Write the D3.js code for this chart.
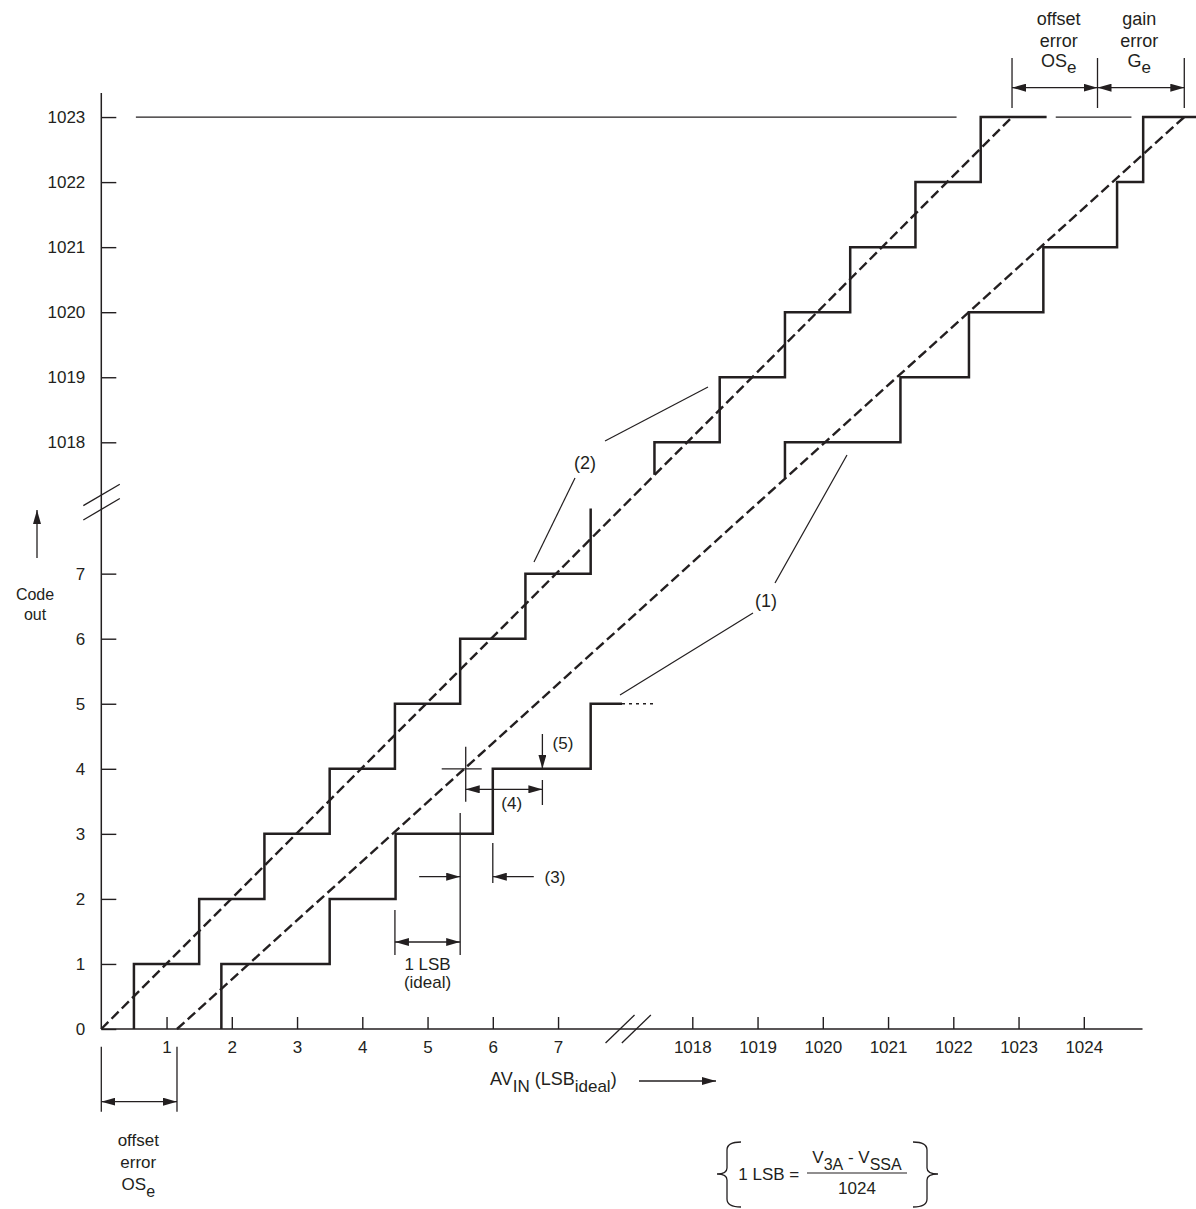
<!DOCTYPE html>
<html>
<head>
<meta charset="utf-8">
<script src="https://cdn.jsdelivr.net/npm/d3@7"></script>
<style>
body { margin: 0; background: #fff; }
svg text { font-family: "Liberation Sans", Arial, sans-serif; fill: #231f20; }
</style>
</head>
<body>
<svg class="chart"></svg>
<script>
var width = 1196,
    height = 1209;

// tick labels (LSB on x, output code on y); both axes are broken between 8 and 1017
var xTicksLow = [1, 2, 3, 4, 5, 6, 7];
var xTicksHigh = [1018, 1019, 1020, 1021, 1022, 1023, 1024];
var yTicksLow = [0, 1, 2, 3, 4, 5, 6, 7];
var yTicksHigh = [1018, 1019, 1020, 1021, 1022, 1023];

// (2) ideal transfer curve, [AVin (LSB), code]
var idealLow = [[0.5, 0], [0.5, 1], [1.5, 2], [2.5, 3], [3.5, 4], [4.5, 5], [5.5, 6], [6.5, 7], [7.5, 8]];
var idealHigh = [[1017.42, 1017.5], [1017.42, 1018], [1018.42, 1019], [1019.42, 1020], [1020.42, 1021],
                 [1021.42, 1022], [1022.42, 1023], [1023.43, 1023]];

// (1) example of an actual transfer curve
var actualLow = [[1.84, 0], [1.84, 1], [3.5, 2], [4.51, 3], [6.0, 4], [7.5, 5], [7.98, 5]];
var actualLowMore = [[7.98, 5], [8.48, 5]];
var actualHigh = [[1019.42, 1017.45], [1019.42, 1018], [1021.19, 1019], [1022.24, 1020], [1023.38, 1021],
                  [1024.51, 1022], [1024.91, 1023], [1025.75, 1023]];

// straight lines through the step centres
var idealLine = [[0, 0], [1022.9, 1023]];
var actualLine = [[1.16, 0], [1025.54, 1023]];

// thin full-scale line at code 1023
var fullScale = [[[0.53, 1023], [1022.05, 1023]], [[1023.57, 1023], [1024.73, 1023]]];

var ox = 101.3, oy = 1029, lsbX = 65.25, lsbY = 65.05;

var xLo = d3.scaleLinear().domain([0, 8]).range([ox, ox + 8 * lsbX]);
var xHi = d3.scaleLinear().domain([1018, 1024]).range([692.3, 692.3 + 6 * lsbX]);
var yLo = d3.scaleLinear().domain([0, 7]).range([oy, oy - 7 * lsbY]);
var yHi = d3.scaleLinear().domain([1018, 1023]).range([442.3, 442.3 - 5 * lsbY]);

function X(v) { return v > 500 ? xHi(v) : xLo(v); }
function Y(c) { return c > 500 ? yHi(c) : yLo(c); }

var ink = "#231f20";
var fmt = d3.format("d");

var chart = d3.select(".chart")
    .attr("width", width)
    .attr("height", height);

chart.append("defs").append("marker")
    .attr("id", "arr")
    .attr("viewBox", "0 0 14 8")
    .attr("refX", 14)
    .attr("refY", 4)
    .attr("markerWidth", 14)
    .attr("markerHeight", 8)
    .attr("markerUnits", "userSpaceOnUse")
    .attr("orient", "auto-start-reverse")
  .append("path")
    .attr("d", "M0,0L14,4L0,8Z")
    .attr("fill", ink);

var stepLine = d3.line()
    .x(function(d) { return X(d[0]); })
    .y(function(d) { return Y(d[1]); })
    .curve(d3.curveStepAfter);

var straight = d3.line()
    .x(function(d) { return X(d[0]); })
    .y(function(d) { return Y(d[1]); });

// axes
function styleAxis(g) {
  g.select(".domain").remove();
  g.attr("font-size", 17).attr("font-family", "Liberation Sans, Arial, sans-serif").attr("color", ink);
  g.selectAll(".tick line").attr("stroke-width", 1.4);
}

chart.append("g")
    .attr("transform", "translate(0," + oy + ")")
    .call(d3.axisBottom(xLo).tickValues(xTicksLow).tickFormat(fmt).tickSize(-12).tickPadding(12))
    .call(styleAxis);
chart.append("g")
    .attr("transform", "translate(0," + oy + ")")
    .call(d3.axisBottom(xHi).tickValues(xTicksHigh).tickFormat(fmt).tickSize(-12).tickPadding(12))
    .call(styleAxis);
chart.append("g")
    .attr("transform", "translate(" + ox + ",0)")
    .call(d3.axisLeft(yLo).tickValues(yTicksLow).tickFormat(fmt).tickSize(-15).tickPadding(16))
    .call(styleAxis);
chart.append("g")
    .attr("transform", "translate(" + ox + ",0)")
    .call(d3.axisLeft(yHi).tickValues(yTicksHigh).tickFormat(fmt).tickSize(-15).tickPadding(16))
    .call(styleAxis);

chart.append("path")
    .attr("d", "M" + X(0) + "," + Y(0) + "H" + X(1024.9) + "M" + X(0) + "," + Y(0) + "V" + Y(1023.37))
    .attr("fill", "none")
    .attr("stroke", ink)
    .attr("stroke-width", 1.5);

// break marks
[7.95, 8.2].forEach(function(v) {
  chart.append("line")
      .attr("x1", xLo(v) - 14.5).attr("y1", oy + 14)
      .attr("x2", xLo(v) + 14.5).attr("y2", oy - 14)
      .attr("stroke", ink).attr("stroke-width", 1.3);
});
[7.99, 8.21].forEach(function(c) {
  chart.append("line")
      .attr("x1", ox - 18).attr("y1", yLo(c) + 10.7)
      .attr("x2", ox + 18.5).attr("y2", yLo(c) - 10.7)
      .attr("stroke", ink).attr("stroke-width", 1.3);
});

// full scale line
chart.selectAll(".fs")
    .data(fullScale)
  .enter().append("path")
    .attr("class", "fs")
    .attr("d", straight)
    .attr("fill", "none")
    .attr("stroke", ink)
    .attr("stroke-width", 1.3);

// dashed straight lines
chart.selectAll(".dash")
    .data([idealLine, actualLine])
  .enter().append("path")
    .attr("class", "dash")
    .attr("d", straight)
    .attr("fill", "none")
    .attr("stroke", ink)
    .attr("stroke-width", 2.4)
    .attr("stroke-dasharray", "10,4.5");

// staircases
chart.selectAll(".stair")
    .data([idealLow, idealHigh, actualLow, actualHigh])
  .enter().append("path")
    .attr("class", "stair")
    .attr("d", stepLine)
    .attr("fill", "none")
    .attr("stroke", ink)
    .attr("stroke-width", 2.5);

chart.append("path")
    .attr("d", straight(actualLowMore))
    .attr("fill", "none")
    .attr("stroke", ink)
    .attr("stroke-width", 1.4)
    .attr("stroke-dasharray", "3,4");

// helpers for the annotations
function seg(x1, y1, x2, y2, w, startArrow, endArrow) {
  var l = chart.append("line")
      .attr("x1", x1).attr("y1", y1)
      .attr("x2", x2).attr("y2", y2)
      .attr("stroke", ink)
      .attr("stroke-width", w || 1.3);
  if (startArrow) l.attr("marker-start", "url(#arr)");
  if (endArrow) l.attr("marker-end", "url(#arr)");
  return l;
}

function label(x, y, parts, size, anchor) {
  var t = chart.append("text")
      .attr("x", x)
      .attr("y", y)
      .attr("font-size", size || 18)
      .attr("text-anchor", anchor || "middle");
  var down = false;
  parts.forEach(function(p) {
    var s = typeof p === "string" ? p : p.sub;
    var isSub = typeof p !== "string";
    var ts = t.append("tspan").text(s);
    if (isSub && !down) { ts.attr("dy", 6.5).attr("font-size", (size || 18) - 1); down = true; }
    else if (!isSub && down) { ts.attr("dy", -6.5); down = false; }
    else if (isSub) ts.attr("font-size", (size || 18) - 1);
  });
  return t;
}

// 1 LSB (ideal)
seg(X(4.5), 910, X(4.5), 955);
seg(X(5.5), 813, X(5.5), 955);
seg(X(4.5), 942, X(5.5), 942, 1.3, true, true);
label(X(5), 970, ["1 LSB"], 17);
label(X(5), 988, ["(ideal)"], 17);

// (3) differential linearity error
seg(X(5.5) - 41, 876.7, X(5.5), 876.7, 1.3, false, true);
seg(X(6.0), 843, X(6.0), 883);
seg(X(6.0) + 41, 876.7, X(6.0), 876.7, 1.3, false, true);
label(555, 882.5, ["(3)"], 17);

// (4) integral non-linearity
var cx = X(5.585), cy = Y(4);
seg(cx, cy - 22, cx, cy + 33);
seg(cx - 24, cy, cx + 16, cy);
seg(cx, 789.3, X(6.76), 789.3, 1.3, true, true);
seg(X(6.76), 780, X(6.76), 805);
label(511.7, 809, ["(4)"], 17);

// (5) center of actual step
seg(X(6.76), 734, X(6.76), Y(4), 1.3, false, true);
label(563, 749, ["(5)"], 17);

// leaders for (1) and (2)
seg(605, 441, 708, 387, 1.2);
seg(575, 478, 534, 562, 1.2);
label(585, 468.5, ["(2)"], 18);
seg(775, 583, 847, 455, 1.2);
seg(753, 613, 620, 695, 1.2);
label(766, 607, ["(1)"], 18);

// axis titles
label(35, 600, ["Code"], 16);
label(35, 620, ["out"], 16);
seg(37, 558, 37, 510, 1.3, false, true);

label(490, 1085, ["AV", {sub: "IN"}, " (LSB", {sub: "ideal"}, ")"], 18, "start");
seg(639, 1081, 716, 1081, 1.3, false, true);

// offset error at zero
seg(X(0), 1046.7, X(0), 1111.7);
seg(X(1.16), 1046.7, X(1.16), 1111.7);
seg(X(0), 1101.7, X(1.16), 1101.7, 1.3, true, true);
label(138.3, 1145.5, ["offset"], 17);
label(138.3, 1167.5, ["error"], 17);
label(138.3, 1190, ["OS", {sub: "e"}], 17);

// offset and gain error at full scale
[1022.9, 1024.21, 1025.54].forEach(function(v) {
  seg(X(v), 58, X(v), 108);
});
seg(X(1022.9), 87.7, X(1024.21), 87.7, 1.3, true, true);
seg(X(1024.21), 87.7, X(1025.54), 87.7, 1.3, true, true);
label(1058.7, 25, ["offset"], 18);
label(1058.7, 47, ["error"], 18);
label(1058.7, 66.7, ["OS", {sub: "e"}], 18);
label(1139.3, 25, ["gain"], 18);
label(1139.3, 47, ["error"], 18);
label(1139.3, 66.7, ["G", {sub: "e"}], 18);

// 1 LSB definition
label(738.3, 1180, ["1 LSB ="], 17, "start");
label(857, 1163, ["V", {sub: "3A"}, " - V", {sub: "SSA"}], 17);
seg(807, 1173, 907, 1173, 1.2);
label(857, 1194, ["1024"], 17);

chart.append("path")
    .attr("d", "M741,1142Q727,1142 727,1150V1168Q727,1174 717,1174Q727,1174 727,1180V1199Q727,1207 741,1207")
    .attr("fill", "none").attr("stroke", ink).attr("stroke-width", 1.3);
chart.append("path")
    .attr("d", "M913,1142Q927,1142 927,1150V1168Q927,1174 938,1174Q927,1174 927,1180V1199Q927,1207 913,1207")
    .attr("fill", "none").attr("stroke", ink).attr("stroke-width", 1.3);
</script>
</body>
</html>
